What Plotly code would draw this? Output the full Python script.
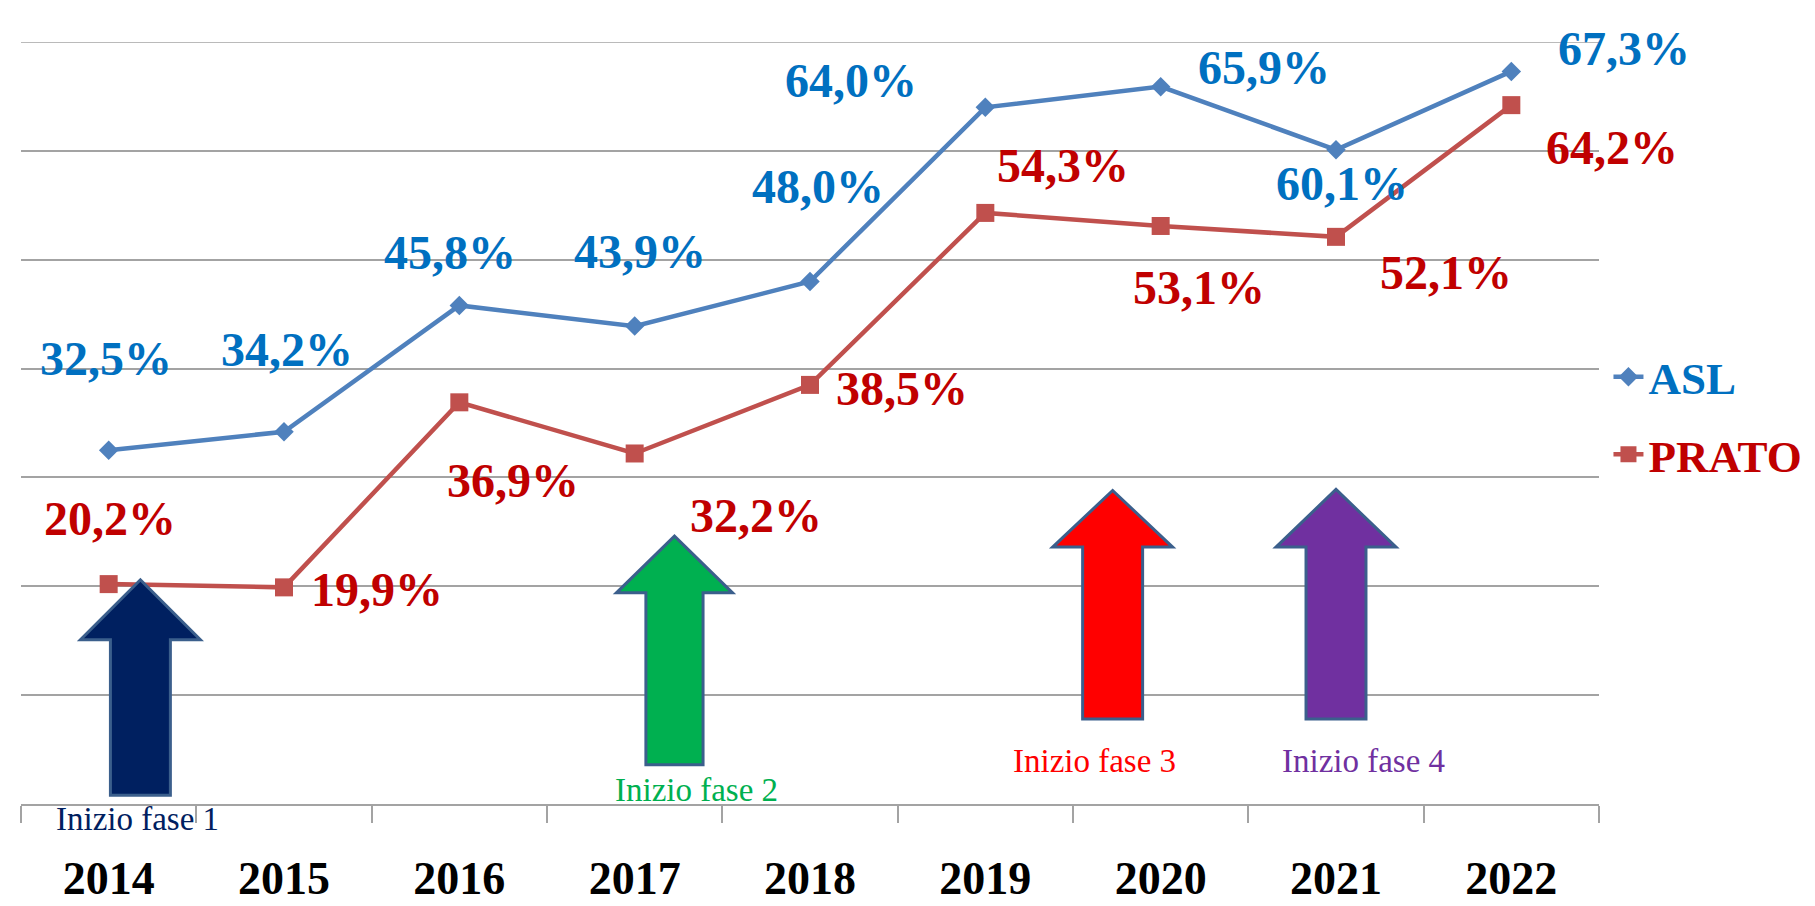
import plotly.graph_objects as go

# ---------------- data ----------------
years = ["2014", "2015", "2016", "2017", "2018", "2019", "2020", "2021", "2022"]
asl = [32.5, 34.2, 45.8, 43.9, 48.0, 64.0, 65.9, 60.1, 67.3]
prato = [20.2, 19.9, 36.9, 32.2, 38.5, 54.3, 53.1, 52.1, 64.2]
phase_labels = ["Inizio fase 1", "Inizio fase 2", "Inizio fase 3", "Inizio fase 4"]

# ---------------- styles / placement ----------------
ASL_LINE = "#4F81BD"
PRATO_LINE = "#C0504D"
ASL_TXT = "#0070C0"
PRATO_TXT = "#C00000"
GRID = "#A3A3A3"
SERIF = "Liberation Serif, Times New Roman, serif"
Y_MAX = 70

# pixel offsets (dx right, dy down) of each value label from its marker
asl_off = [(-3, -92), (3, -82), (-9, -53), (5, -75), (8, -95), (-134, -27), (103, -19), (6, 34), (113, -23)]
prato_off = [(1, -66), (93, 2), (54, 78), (121, 62), (92, 4), (78, -47), (38, 62), (110, 36), (101, 42)]

# block arrows: centre x (category index units), tip, head base, bottom (y units), half widths
arrows = [
    dict(cx=0.181, tip=20.6, base=15.1, bottom=0.8, hw=0.342, sw=0.171, fill="#002060"),
    dict(cx=3.227, tip=24.6, base=19.4, bottom=3.6, hw=0.331, sw=0.163, fill="#00B050"),
    dict(cx=5.726, tip=28.8, base=23.6, bottom=7.8, hw=0.342, sw=0.171, fill="#FF0000"),
    dict(cx=7.000, tip=28.9, base=23.6, bottom=7.8, hw=0.342, sw=0.171, fill="#7030A0"),
]
# phase captions: x in category index units, y as fraction of plot height
phase_pos = [(0.164, -0.020, "#002060"), (3.352, 0.018, "#00B050"),
             (5.622, 0.057, "#FF0000"), (7.156, 0.057, "#7030A0")]


def fmt(v):
    return f"{v:.1f}".replace(".", ",") + "%"


fig = go.Figure()
fig.add_trace(go.Scatter(
    x=years, y=asl, mode="lines+markers",
    name=f"<span style='color:{ASL_TXT}'>ASL</span>",
    legendgroup="a",
    line=dict(color=ASL_LINE, width=4.5),
    marker=dict(symbol="diamond", size=15, color=ASL_LINE),
))
fig.add_trace(go.Scatter(
    x=years, y=prato, mode="lines+markers",
    name=f"<span style='color:{PRATO_TXT}'>PRATO</span>",
    legendgroup="b",
    line=dict(color=PRATO_LINE, width=4.5),
    marker=dict(symbol="square", size=18, color=PRATO_LINE),
))

annotations = []
for series, offs, col in ((asl, asl_off, ASL_TXT), (prato, prato_off, PRATO_TXT)):
    for i, (v, (dx, dy)) in enumerate(zip(series, offs)):
        # category axis: annotation x is the category's index
        annotations.append(dict(
            x=i, y=v, xref="x", yref="y", text=fmt(v), showarrow=False,
            xshift=dx, yshift=-dy, xanchor="center", yanchor="middle",
            font=dict(family=SERIF, size=48, color=col, weight="bold"),
        ))

for lab, (px, py, col) in zip(phase_labels, phase_pos):
    annotations.append(dict(
        x=px, y=py, xref="x", yref="paper", text=lab, showarrow=False,
        xanchor="center", yanchor="middle",
        font=dict(family=SERIF, size=33, color=col),
    ))

shapes = [dict(type="line", xref="paper", yref="y", x0=0, x1=1, y0=Y_MAX, y1=Y_MAX,
               line=dict(color=GRID, width=1.5), layer="below")]
for a in arrows:
    cx, hw, sw = a["cx"], a["hw"], a["sw"]
    path = (f"M{cx - sw},{a['bottom']} L{cx + sw},{a['bottom']} L{cx + sw},{a['base']} "
            f"L{cx + hw},{a['base']} L{cx},{a['tip']} L{cx - hw},{a['base']} "
            f"L{cx - sw},{a['base']} Z")
    shapes.append(dict(type="path", path=path, xref="x", yref="y",
                       fillcolor=a["fill"], line=dict(color="#3B5F8C", width=3)))

fig.update_layout(
    width=1815, height=906,
    paper_bgcolor="white", plot_bgcolor="white",
    margin=dict(l=13, r=224, t=34, b=110, autoexpand=False),
    showlegend=True,
    legend=dict(x=1.006, xanchor="left", y=0.51, yanchor="middle",
                font=dict(family=SERIF, size=45, weight="bold"),
                traceorder="grouped", tracegroupgap=16,
                bgcolor="rgba(0,0,0,0)"),
    annotations=annotations,
    shapes=shapes,
    xaxis=dict(
        type="category", categoryorder="array", categoryarray=years,
        range=[-0.5, 8.5], showgrid=False, zeroline=False,
        showline=True, linecolor=GRID, linewidth=1.5,
        ticks="outside", tickson="boundaries", ticklen=17, tickcolor=GRID, tickwidth=1.5,
        tickfont=dict(family=SERIF, size=46, color="black", weight="bold"),
        ticklabelstandoff=33,
    ),
    yaxis=dict(
        range=[0, Y_MAX], dtick=10, showgrid=True, gridcolor=GRID, gridwidth=1.5,
        zeroline=False, showline=False, showticklabels=False, ticks="",
    ),
)

fig.write_html("out.html")
